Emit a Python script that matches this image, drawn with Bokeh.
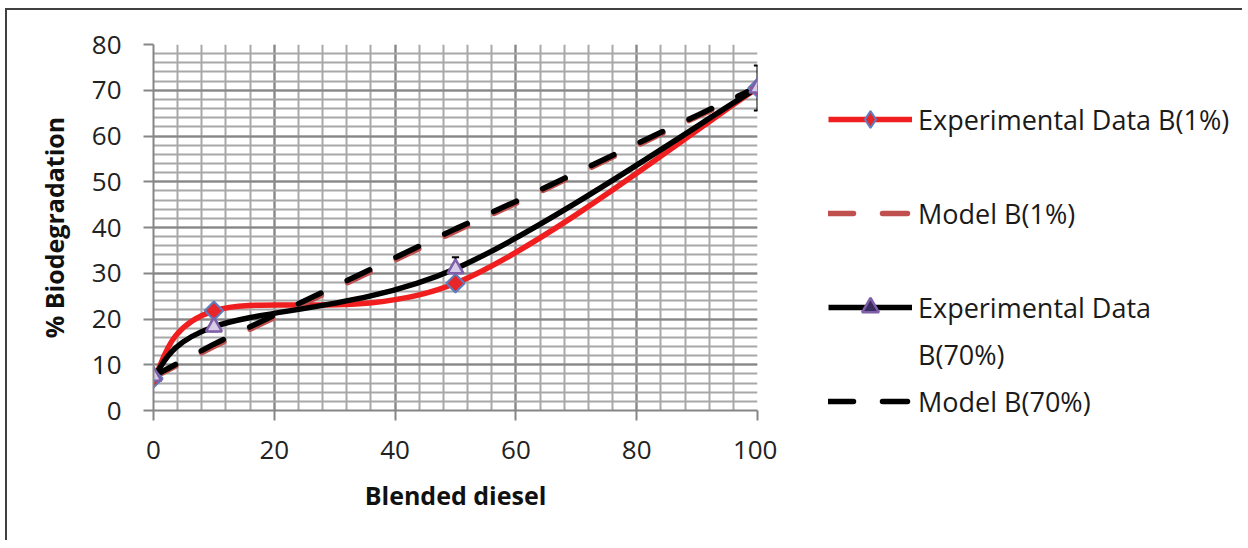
from bokeh.plotting import figure
from bokeh.layouts import row
from bokeh.models import (Range1d, SingleIntervalTicker, Legend, LegendItem, ColumnDataSource)
from bokeh.embed import file_html
from bokeh.resources import INLINE
from math import pi

# ---------------- data ----------------
blend = [0, 10, 50, 100]
exp_b1 = [7.0, 21.8, 27.8, 70.5]
exp_b70 = [7.5, 18.3, 31.0, 70.5]
err_b70 = [0.8, 1.0, 2.5, 4.9]

model_x = [0, 10, 20, 30, 40, 50, 60, 70, 80, 90, 100]
model_b1 = [7.2, 14.0, 20.3, 26.6, 32.9, 39.2, 45.3, 51.6, 57.9, 64.2, 70.4]
model_b70 = [7.5, 14.5, 20.8, 27.1, 33.4, 39.7, 45.7, 52.0, 58.3, 64.5, 70.7]

x_tick_step = 20
y_tick_step = 10
labels = ["Experimental Data B(1%)", "Model B(1%)", "Experimental Data", "B(70%)", "Model B(70%)"]

FONT = "Open Sans"
RED = "#F01E1E"
MODEL_RED = "#C0504D"
LW = 5.5
NAN = float("nan")


def smooth(xs, ys):
    """Bezier control points for a smoothed line through the data points."""
    n = len(xs)
    d = dict(x0=[], y0=[], x1=[], y1=[], cx0=[], cy0=[], cx1=[], cy1=[])
    for i in range(n - 1):
        i0, i3 = max(i - 1, 0), min(i + 2, n - 1)
        d["x0"].append(xs[i]); d["y0"].append(ys[i])
        d["x1"].append(xs[i + 1]); d["y1"].append(ys[i + 1])
        d["cx0"].append(xs[i] + (xs[i + 1] - xs[i0]) / 6)
        d["cy0"].append(ys[i] + (ys[i + 1] - ys[i0]) / 6)
        d["cx1"].append(xs[i + 1] - (xs[i3] - xs[i]) / 6)
        d["cy1"].append(ys[i + 1] - (ys[i3] - ys[i]) / 6)
    return ColumnDataSource(d)


H = 530
p = figure(width=770, height=H, x_range=Range1d(0, 100), y_range=Range1d(0, 80),
           output_backend="svg", toolbar_location=None,
           min_border_left=146, min_border_top=34, min_border_bottom=130, min_border_right=20)
p.background_fill_color = "white"
p.border_fill_color = "white"
p.outline_line_color = None

p.xaxis.ticker = SingleIntervalTicker(interval=x_tick_step, num_minor_ticks=5)
p.yaxis.ticker = SingleIntervalTicker(interval=y_tick_step, num_minor_ticks=5)

for g in (p.xgrid, p.ygrid):
    g.grid_line_color = "#868686"
    g.grid_line_width = 2
    g.minor_grid_line_color = "#A8A8A8"
    g.minor_grid_line_width = 2

for ax in (p.xaxis, p.yaxis):
    ax.axis_line_color = "#868686"
    ax.axis_line_width = 2
    ax.major_tick_line_color = "#868686"
    ax.major_tick_line_width = 2
    ax.major_tick_out = 10
    ax.major_tick_in = 0
    ax.minor_tick_out = 0
    ax.minor_tick_in = 0
    ax.major_label_text_font = FONT
    ax.major_label_text_font_size = "26px"
    ax.major_label_text_color = "#222222"
    ax.axis_label_text_font = FONT
    ax.axis_label_text_font_size = "25px"
    ax.axis_label_text_font_style = "bold"
    ax.axis_label_text_color = "#111111"

p.xaxis.axis_label = "Blended diesel"
p.yaxis.axis_label = "% Biodegradation"
p.xaxis.major_label_standoff = 20
p.yaxis.major_label_standoff = 22
p.xaxis.axis_label_standoff = 16
p.yaxis.axis_label_standoff = 18

# ---------------- series ----------------
bez = dict(x0="x0", y0="y0", x1="x1", y1="y1", cx0="cx0", cy0="cy0", cx1="cx1", cy1="cy1")
p.bezier(source=smooth(blend, exp_b1), line_color=RED, line_width=LW, line_cap="round", **bez)
p.line(model_x, model_b1, line_color=MODEL_RED, line_width=LW, line_dash="25 29", line_cap="round")
p.bezier(source=smooth(blend, exp_b70), line_color="black", line_width=LW, line_cap="round", **bez)
p.line(model_x, model_b70, line_color="black", line_width=LW, line_dash="25 29", line_cap="round")

# error bars (Experimental B(70%))
lo = [y - e for y, e in zip(exp_b70, err_b70)]
hi = [y + e for y, e in zip(exp_b70, err_b70)]
cap = 0.6
p.segment(x0=blend, y0=lo, x1=blend, y1=hi, line_color="black", line_width=2)
p.segment(x0=[x - cap for x in blend], y0=hi, x1=[x + cap for x in blend], y1=hi,
          line_color="black", line_width=2)
p.segment(x0=[x - cap for x in blend], y0=lo, x1=[x + cap for x in blend], y1=lo,
          line_color="black", line_width=2)

DIAMOND = dict(fill_color="#E8262A", line_color="#5B7FC0", line_width=2)
TRIANGLE = dict(marker="triangle", fill_color="#D6CCE8", line_color="#7F5FA8", line_width=2.5)
p.scatter(blend, exp_b1, size=13, marker="square", angle=pi / 4, **DIAMOND)
p.scatter(blend, exp_b70, size=16, **TRIANGLE)

# ---------------- legend panel ----------------
q = figure(width=465, height=H, x_range=Range1d(0, 1), y_range=Range1d(0, 1),
           output_backend="svg", toolbar_location=None, x_axis_type=None, y_axis_type=None,
           min_border=0)
q.grid.visible = False
q.outline_line_color = None
q.background_fill_color = "white"
q.border_fill_color = "white"

# legend swatches (no visible data)
l1 = q.line(x=[NAN], y=[NAN], line_color=RED, line_width=LW)
s1 = q.scatter(x=[NAN], y=[NAN], marker="diamond", **DIAMOND)
l2 = q.line(x=[NAN], y=[NAN], line_color=MODEL_RED, line_width=LW, line_dash="25 29", line_cap="round")
l3 = q.line(x=[NAN], y=[NAN], line_color="black", line_width=LW)
s3 = q.scatter(x=[NAN], y=[NAN], **{**TRIANGLE, "fill_color": "#3A2D60"})
l4 = q.line(x=[NAN], y=[NAN], line_color="black", line_width=LW, line_dash="25 29", line_cap="round")
blank = q.line(x=[NAN], y=[NAN], line_alpha=0)

legend = Legend(items=[
    LegendItem(label=labels[0], renderers=[l1, s1]),
    LegendItem(label=" ", renderers=[blank]),
    LegendItem(label=labels[1], renderers=[l2]),
    LegendItem(label=" ", renderers=[blank]),
    LegendItem(label=labels[2], renderers=[l3, s3]),
    LegendItem(label=labels[3], renderers=[blank]),
    LegendItem(label=labels[4], renderers=[l4]),
], location=(51, -12), orientation="vertical", padding=0, margin=0, spacing=5,
    glyph_width=84, glyph_height=42, label_height=42, label_standoff=6,
    label_text_font=FONT, label_text_font_size="27px", label_text_color="#1A1A1A",
    border_line_color=None, background_fill_alpha=0)
q.add_layout(legend, "left")

layout = row(p, q, margin=(8, 0, 0, 5),
             styles={"border-top": "2px solid #404040", "border-left": "2px solid #404040"})

open("out.html", "w").write(file_html(layout, INLINE))
